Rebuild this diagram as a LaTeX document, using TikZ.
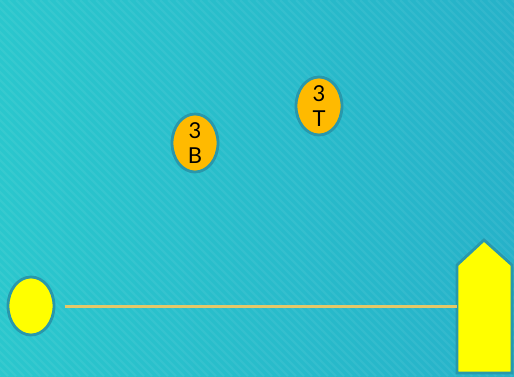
\documentclass[tikz,border=0pt]{standalone}
\usepackage{fontspec}
\setmainfont{Lato}
\usetikzlibrary{positioning,shapes.geometric}
\definecolor{cSeaA} {RGB}{42,199,205}
\definecolor{cSeaB} {RGB}{38,178,201}
\definecolor{cRim}  {RGB}{40,152,172}
\definecolor{cChip} {RGB}{255,186,0}
\definecolor{cSun}  {RGB}{255,255,0}
\definecolor{cTrack}{RGB}{228,200,104}

\begin{document}
\begin{tikzpicture}[x=0.02cm, y=-0.02cm]

%% ── shared styles ─────────────────────────────────────────────────────────
\tikzset{
  chip/.style={
    ellipse, inner sep=0pt,
    minimum width=0.92cm, minimum height=1.16cm,
    draw=cRim, fill=#1, line width=1.6pt,
    align=center, font=\fontsize{12.5}{14}\selectfont
  },
  track/.style={draw=cTrack, line width=1.7pt},
  stripe/.style={white, opacity=0.06, line width=1.4pt},
}

%% ── background ────────────────────────────────────────────────────────────
\shade[left color=cSeaA, right color=cSeaB] (0,0) rectangle (514,376);
\begin{scope}
  \clip (0,0) rectangle (514,376);
  \foreach \s in {-400,-392,...,520}
    \draw[stripe] (\s,0) -- (\s+376,376);
\end{scope}
\useasboundingbox (0,0) rectangle (514,376);

%% ── players ───────────────────────────────────────────────────────────────
\node[chip=cChip] (pB)   at (195,143) {3\\B};
\node[chip=cChip] (pT)   at (319,106) {3\\T};
\node[chip=cSun]  (ball) at (31,306)  {};

%% ── goal marker ───────────────────────────────────────────────────────────
\draw[draw=cRim, fill=cSun, line width=1.6pt]
  (457,373) -- (457,265) -- (484,240) -- (512,265) -- (512,373) -- cycle;
\coordinate (goal) at (457,306);

\draw[track, shorten <=0.2cm] (ball) -- (goal);

\end{tikzpicture}
\end{document}
